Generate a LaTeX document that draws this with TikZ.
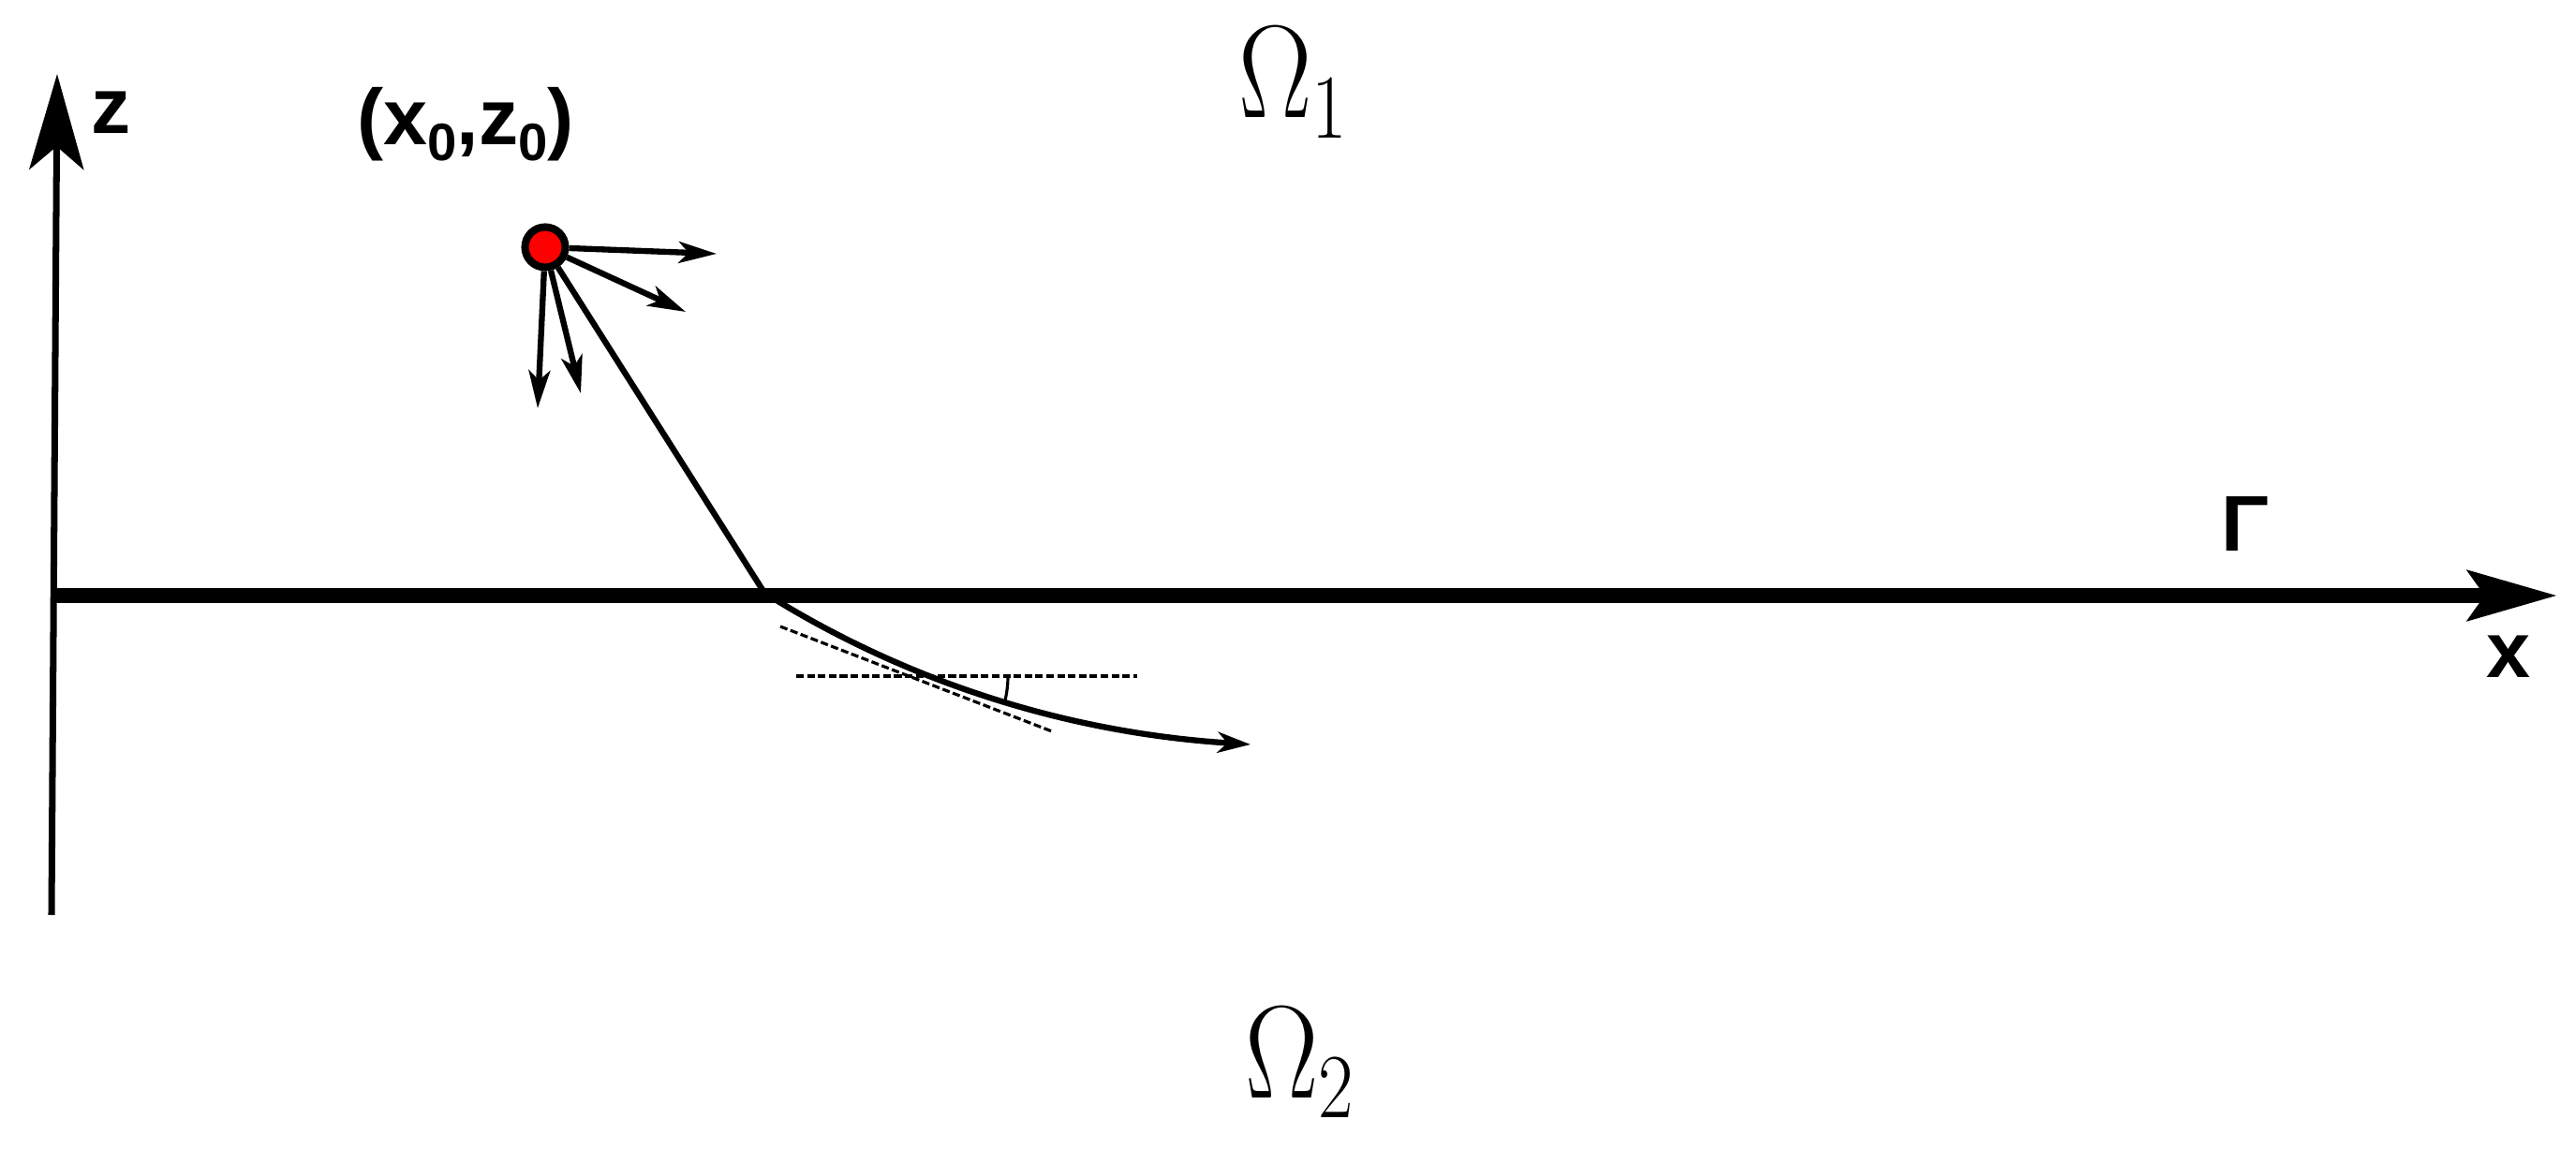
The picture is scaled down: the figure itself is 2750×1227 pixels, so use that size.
\documentclass[tikz,border=0pt]{standalone}
\usepackage[no-math]{fontspec}
\setsansfont{Liberation Sans}
\usetikzlibrary{arrows.meta}
\tikzset{
  axisz/.style={line width=2pt, -{Stealth[length=29pt,width=16.5pt,inset=7pt]}},
  axisx/.style={line width=4.6pt, -{Stealth[length=27pt,width=15pt,inset=5pt]}},
  ray/.style={line width=1.8pt},
  emit/.style={line width=1.8pt, -{Stealth[length=11.5pt,width=6.5pt,inset=3pt]}},
  refr/.style={line width=1.8pt, -{Stealth[length=10pt,width=6.3pt,inset=3pt]}},
  guide/.style={line width=0.9pt, dash pattern=on 2.3pt off 1pt},
  anglemark/.style={line width=0.9pt},
  lbl/.style={font=\sffamily\bfseries\fontsize{24}{28}\selectfont, anchor=base, inner sep=0pt},
  omega/.style={font=\Huge, anchor=base, inner sep=0pt},
  source/.style={circle, draw=black, line width=2.3pt, fill=red, minimum size=0.43cm, inner sep=0pt},
}
\newcommand{\subz}{\raisebox{-5pt}{\fontsize{16}{16}\selectfont 0}}
\newcommand{\regionlabel}[1]{\scalebox{1.34}[1.61]{$\Omega_{\scriptscriptstyle #1}$}}
\begin{document}
\begin{tikzpicture}[x=0.01cm, y=-0.01cm]
  \useasboundingbox (0,0) rectangle (2750,1227);
  % axes
  \coordinate (zb) at (55,977);
  \coordinate (zt) at (61,79);
  \coordinate (xl) at (58,636);
  \coordinate (xr) at (2730,636);
  \draw[axisz] (zb) -- (zt);
  \draw[axisx] (xl) -- (xr);
  % labels
  \node[lbl] (zlabel) at (119,143) {z};
  \node[lbl] (xlabel) at (2678,723) {x};
  \node[lbl] (gamma) at (2397,588) {Γ};
  \node[lbl] (srclabel) at (497,154) {(x\subz,z\subz)};
  \node[omega] (om1) at (1381,126) {\regionlabel{1}};
  \node[omega] (om2) at (1388,1172) {\regionlabel{2}};
  % source and emitted rays
  \node[source] (src) at (582,264) {};
  \coordinate (t1) at (765,271);
  \coordinate (t2) at (732,333);
  \coordinate (t3) at (574,436);
  \coordinate (t4) at (620,420);
  \draw[emit] (src) -- (t1);
  \draw[emit] (src) -- (t2);
  \draw[emit] (src) -- (t3);
  \draw[emit] (src) -- (t4);
  % ray to interface and refracted path
  \coordinate (P) at (816,633);
  \coordinate (Q) at (1335,795);
  \draw[ray] (src) -- (P);
  \draw[refr] (P) .. controls (930,705) and (1100,780) .. (Q);
  % guide lines and angle
  \coordinate (T1) at (833,669);
  \coordinate (T2) at (1123,781);
  \coordinate (H1) at (850,722);
  \coordinate (H2) at (1214,722);
  \draw[guide] (T1) -- (T2);
  \draw[guide] (H1) -- (H2);
  \coordinate (A1) at (1076,722);
  \coordinate (A2) at (1073,748);
  \draw[anglemark] (A1) .. controls (1076,731) and (1075,739) .. (A2);
\end{tikzpicture}
\end{document}
